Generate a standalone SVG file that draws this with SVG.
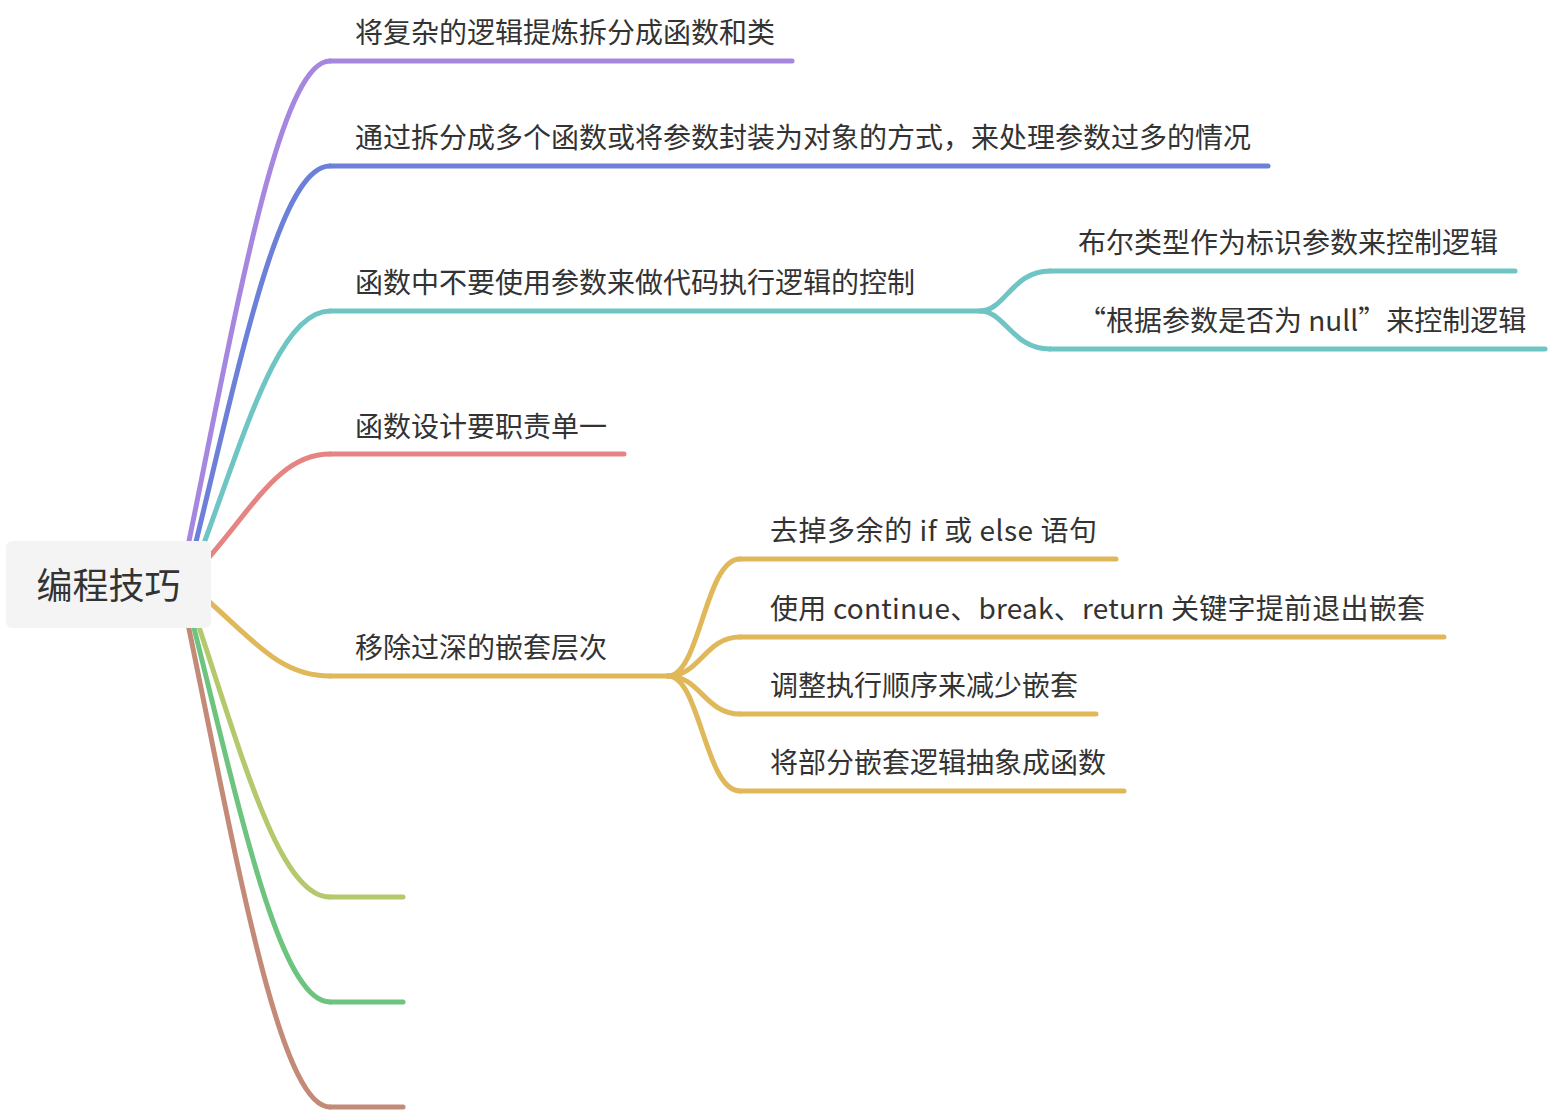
<svg xmlns="http://www.w3.org/2000/svg" width="1550" height="1112" viewBox="0 0 1550 1112">
<style>
.c{fill:none;stroke-width:5;stroke-linecap:round;stroke-linejoin:round}
.t{font-family:"Noto Sans CJK SC","Microsoft YaHei",sans-serif;font-size:28px;fill:#333}
.r{font-family:"Noto Sans CJK SC","Microsoft YaHei",sans-serif;font-size:36px;fill:#333}
.pu{stroke:#a687e0}.bl{stroke:#6d80d9}.te{stroke:#6ec5c4}.re{stroke:#e58482}
.go{stroke:#e0b85a}.yg{stroke:#b4c86c}.gr{stroke:#6cc47e}.br{stroke:#c48a78}
</style>
<rect width="1550" height="1112" fill="#fff"/>
<g id="connectors">
<path class="c pu" d="M188 546 C238 301 280 61 330 61"/>
<path class="c bl" d="M195 546 C242 353 280 166 330 166"/>
<path class="c te" d="M203 546 C247 426 280 311 330 311"/>
<path class="c re" d="M205 562 C255 505 280 454 330 454"/>
<path class="c go" d="M205 598 C253 640 280 676 330 676"/>
<path class="c yg" d="M198 624 C244 762 280 897 330 897"/>
<path class="c gr" d="M193 624 C241 815 280 1002 330 1002"/>
<path class="c br" d="M188 624 C238 867 280 1107 330 1107"/>
<path class="c te" d="M980 311 C1005 311 1012 271 1050 271"/>
<path class="c te" d="M980 311 C1005 311 1012 349 1050 349"/>
<path class="c go" d="M668 676 C700 676 705 559 740 559"/>
<path class="c go" d="M668 676 C700 676 705 637 740 637"/>
<path class="c go" d="M668 676 C700 676 705 714 740 714"/>
<path class="c go" d="M668 676 C700 676 705 791 740 791"/>
</g>
<g id="root">
<rect x="6" y="541" width="205" height="87" rx="6" fill="#f4f4f4"/>
<text class="r" x="108.5" y="599" text-anchor="middle">编程技巧</text>
</g>
<g id="n1">
<line class="c pu" x1="330" y1="61" x2="792" y2="61"/>
<text class="t" x="355" y="43">将复杂的逻辑提炼拆分成函数和类</text>
</g>
<g id="n2">
<line class="c bl" x1="330" y1="166" x2="1268" y2="166"/>
<text class="t" x="355" y="148">通过拆分成多个函数或将参数封装为对象的方式，来处理参数过多的情况</text>
</g>
<g id="n3">
<line class="c te" x1="330" y1="311" x2="980" y2="311"/>
<text class="t" x="355" y="293">函数中不要使用参数来做代码执行逻辑的控制</text>
</g>
<g id="n3a">
<line class="c te" x1="1050" y1="271" x2="1515" y2="271"/>
<text class="t" x="1078" y="253">布尔类型作为标识参数来控制逻辑</text>
</g>
<g id="n3b">
<line class="c te" x1="1050" y1="349" x2="1545" y2="349"/>
<text class="t" x="1078" y="331">“根据参数是否为 null”来控制逻辑</text>
</g>
<g id="n4">
<line class="c re" x1="330" y1="454" x2="624" y2="454"/>
<text class="t" x="355" y="437">函数设计要职责单一</text>
</g>
<g id="n5">
<line class="c go" x1="330" y1="676" x2="668" y2="676"/>
<text class="t" x="355" y="658">移除过深的嵌套层次</text>
</g>
<g id="n5a">
<line class="c go" x1="740" y1="559" x2="1116" y2="559"/>
<text class="t" x="770" y="541" textLength="327" lengthAdjust="spacing">去掉多余的 if 或 else 语句</text>
</g>
<g id="n5b">
<line class="c go" x1="740" y1="637" x2="1444" y2="637"/>
<text class="t" x="770" y="619" textLength="655" lengthAdjust="spacing">使用 continue、break、return 关键字提前退出嵌套</text>
</g>
<g id="n5c">
<line class="c go" x1="740" y1="714" x2="1096" y2="714"/>
<text class="t" x="770" y="696">调整执行顺序来减少嵌套</text>
</g>
<g id="n5d">
<line class="c go" x1="740" y1="791" x2="1124" y2="791"/>
<text class="t" x="770" y="773">将部分嵌套逻辑抽象成函数</text>
</g>
<g id="n6">
<line class="c yg" x1="330" y1="897" x2="403" y2="897"/>
</g>
<g id="n7">
<line class="c gr" x1="330" y1="1002" x2="403" y2="1002"/>
</g>
<g id="n8">
<line class="c br" x1="330" y1="1107" x2="403" y2="1107"/>
</g>
</svg>
